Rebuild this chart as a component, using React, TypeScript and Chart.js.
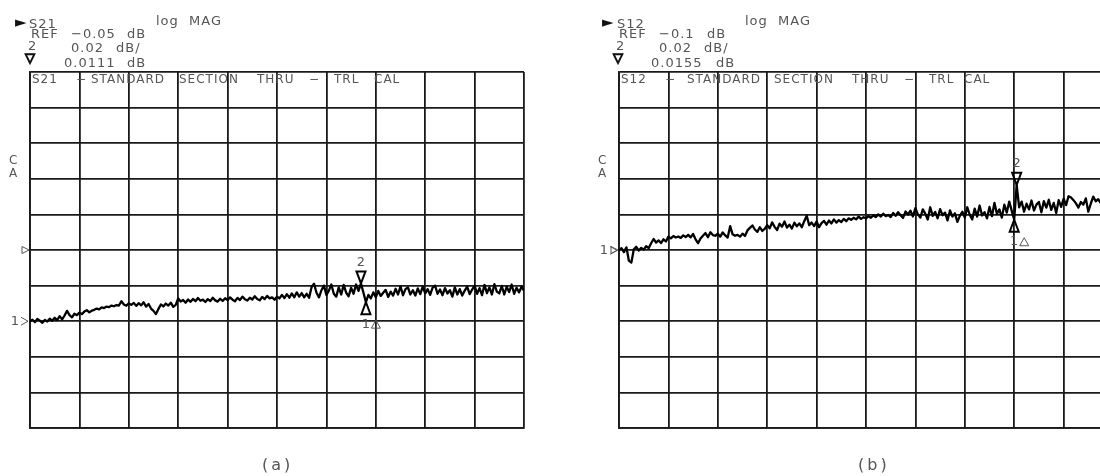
import React, { useEffect, useRef } from "react";
import { Chart, registerables } from "chart.js";

Chart.register(...registerables);

// ---- data -------------------------------------------------------------
const POINT_COUNT = 201; // sweep points per trace (point index on the x axis)
const DB_PER_DIV = 0.02;

const S21_REF_DB = -0.05;
const S12_REF_DB = -0.1;

// marker point indices (marker 2 = ▽, marker 1 = delta reference △)
const S21_MARKER2 = 134;
const S21_MARKER1 = 136;
const S12_MARKER2 = 161;
const S12_MARKER1 = 160;

// S21 log MAG trace (dB)
const S21_DB = [
  -0.0900, -0.0892, -0.0905, -0.0888, -0.0897, -0.0909, -0.0893, -0.0902, -0.0886, -0.0898,
  -0.0881, -0.0894, -0.0872, -0.0890, -0.0868, -0.0842, -0.0866, -0.0878, -0.0858, -0.0866,
  -0.0852, -0.0860, -0.0846, -0.0838, -0.0850, -0.0841, -0.0836, -0.0829, -0.0834, -0.0822,
  -0.0826, -0.0818, -0.0821, -0.0812, -0.0816, -0.0809, -0.0812, -0.0788, -0.0806, -0.0813,
  -0.0800, -0.0808, -0.0797, -0.0814, -0.0799, -0.0811, -0.0794, -0.0818, -0.0803, -0.0829,
  -0.0842, -0.0860, -0.0831, -0.0806, -0.0817, -0.0801, -0.0812, -0.0796, -0.0819, -0.0808,
  -0.0772, -0.0789, -0.0781, -0.0796, -0.0778, -0.0791, -0.0775, -0.0788, -0.0770, -0.0785,
  -0.0779, -0.0792, -0.0776, -0.0787, -0.0768, -0.0783, -0.0790, -0.0774, -0.0786, -0.0771,
  -0.0782, -0.0766, -0.0779, -0.0788, -0.0769, -0.0781, -0.0762, -0.0777, -0.0784, -0.0768,
  -0.0778, -0.0760, -0.0775, -0.0783, -0.0764, -0.0776, -0.0758, -0.0772, -0.0766, -0.0779,
  -0.0762, -0.0772, -0.0752, -0.0770, -0.0748, -0.0768, -0.0744, -0.0766, -0.0738, -0.0762,
  -0.0742, -0.0766, -0.0746, -0.0768, -0.0708, -0.0690, -0.0740, -0.0766, -0.0726, -0.0700,
  -0.0752, -0.0728, -0.0694, -0.0746, -0.0762, -0.0710, -0.0750, -0.0696, -0.0740, -0.0760,
  -0.0712, -0.0746, -0.0694, -0.0730, -0.0688, -0.0740, -0.0793, -0.0752, -0.0772, -0.0738,
  -0.0766, -0.0730, -0.0758, -0.0740, -0.0724, -0.0764, -0.0734, -0.0756, -0.0718, -0.0750,
  -0.0704, -0.0754, -0.0720, -0.0710, -0.0750, -0.0726, -0.0756, -0.0716, -0.0748, -0.0706,
  -0.0744, -0.0720, -0.0752, -0.0712, -0.0700, -0.0746, -0.0722, -0.0754, -0.0714, -0.0744,
  -0.0726, -0.0762, -0.0710, -0.0750, -0.0720, -0.0756, -0.0728, -0.0706, -0.0748, -0.0722,
  -0.0700, -0.0746, -0.0714, -0.0754, -0.0696, -0.0742, -0.0710, -0.0750, -0.0692, -0.0734,
  -0.0744, -0.0702, -0.0750, -0.0706, -0.0736, -0.0694, -0.0746, -0.0712, -0.0738, -0.0706,
  -0.0728,
];

// S12 log MAG trace (dB)
const S12_DB = [
  -0.1002, -0.0990, -0.1012, -0.0985, -0.1060, -0.1071, -0.0996, -0.0982, -0.1003, -0.0988,
  -0.0998, -0.0979, -0.0990, -0.0962, -0.0938, -0.0958, -0.0946, -0.0961, -0.0940, -0.0952,
  -0.0925, -0.0935, -0.0922, -0.0930, -0.0924, -0.0932, -0.0918, -0.0927, -0.0915, -0.0929,
  -0.0910, -0.0940, -0.0962, -0.0935, -0.0920, -0.0905, -0.0928, -0.0900, -0.0916, -0.0920,
  -0.0908, -0.0925, -0.0901, -0.0918, -0.0930, -0.0866, -0.0912, -0.0920, -0.0915, -0.0925,
  -0.0908, -0.0921, -0.0890, -0.0876, -0.0862, -0.0885, -0.0898, -0.0872, -0.0893, -0.0881,
  -0.0860, -0.0878, -0.0845, -0.0870, -0.0888, -0.0852, -0.0869, -0.0840, -0.0874, -0.0858,
  -0.0880, -0.0846, -0.0867, -0.0851, -0.0872, -0.0838, -0.0808, -0.0860, -0.0846, -0.0866,
  -0.0840, -0.0872, -0.0849, -0.0836, -0.0858, -0.0834, -0.0851, -0.0828, -0.0846, -0.0832,
  -0.0843, -0.0825, -0.0838, -0.0822, -0.0830, -0.0819, -0.0828, -0.0812, -0.0825, -0.0816,
  -0.0822, -0.0810, -0.0819, -0.0806, -0.0815, -0.0800, -0.0812, -0.0796, -0.0810, -0.0803,
  -0.0815, -0.0792, -0.0808, -0.0788, -0.0805, -0.0820, -0.0784, -0.0801, -0.0779, -0.0812,
  -0.0765, -0.0800, -0.0818, -0.0772, -0.0796, -0.0829, -0.0760, -0.0808, -0.0786, -0.0822,
  -0.0770, -0.0805, -0.0790, -0.0834, -0.0778, -0.0812, -0.0794, -0.0842, -0.0808, -0.0785,
  -0.0818, -0.0760, -0.0802, -0.0828, -0.0768, -0.0812, -0.0750, -0.0806, -0.0788, -0.0822,
  -0.0758, -0.0810, -0.0735, -0.0798, -0.0772, -0.0818, -0.0745, -0.0790, -0.0728, -0.0780,
  -0.0830, -0.0634, -0.0760, -0.0728, -0.0785, -0.0740, -0.0772, -0.0722, -0.0778, -0.0745,
  -0.0730, -0.0788, -0.0726, -0.0762, -0.0718, -0.0775, -0.0735, -0.0792, -0.0720, -0.0758,
  -0.0712, -0.0748, -0.0698, -0.0705, -0.0720, -0.0738, -0.0762, -0.0730, -0.0745, -0.0710,
  -0.0785, -0.0740, -0.0700, -0.0726, -0.0715, -0.0735, -0.0708, -0.0728, -0.0712, -0.0720,
  -0.0716,
];

// ---- styling ------------------------------------------------------------
const FONT = '"DejaVu Sans", "Liberation Sans", sans-serif';
const TEXT_COLOR = "#555";
const GRID_COLOR = "#1a1a1a";

const markerPlugin = {
  id: "vnaMarkers",
  afterDatasetsDraw(chart: any, _args: any, opts: any) {
    const { ctx, chartArea } = chart;
    const xs = chart.scales.x;
    const ys = chart.scales.y;
    const vals: number[] = opts.values;
    ctx.save();

    // marker 2 (▽ pointing down onto the trace)
    const x2 = xs.getPixelForValue(opts.m2);
    const y2 = ys.getPixelForValue(vals[opts.m2]);
    ctx.strokeStyle = "#000";
    ctx.lineWidth = 2;
    ctx.lineJoin = "miter";
    ctx.beginPath();
    ctx.moveTo(x2, y2);
    ctx.lineTo(x2 - 4.5, y2 - 12);
    ctx.lineTo(x2 + 4.5, y2 - 12);
    ctx.closePath();
    ctx.stroke();
    ctx.fillStyle = TEXT_COLOR;
    ctx.font = `13px ${FONT}`;
    ctx.textAlign = "center";
    ctx.textBaseline = "middle";
    ctx.fillText("2", x2, y2 - 21);

    // marker 1 (△ pointing up onto the trace)
    const x1 = xs.getPixelForValue(opts.m1);
    const y1 = ys.getPixelForValue(vals[opts.m1]);
    ctx.beginPath();
    ctx.moveTo(x1, y1);
    ctx.lineTo(x1 - 4.5, y1 + 12);
    ctx.lineTo(x1 + 4.5, y1 + 12);
    ctx.closePath();
    ctx.stroke();
    ctx.fillText("1", x1, y1 + 22);
    ctx.strokeStyle = TEXT_COLOR;
    ctx.lineWidth = 1;
    ctx.beginPath();
    ctx.moveTo(x1 + 10, y1 + 18);
    ctx.lineTo(x1 + 5.5, y1 + 26);
    ctx.lineTo(x1 + 14.5, y1 + 26);
    ctx.closePath();
    ctx.stroke();

    // reference position ▷
    const yr = ys.getPixelForValue(opts.refVal);
    const L = chartArea.left;
    ctx.beginPath();
    ctx.moveTo(L - 8, yr - 3.5);
    ctx.lineTo(L - 1, yr);
    ctx.lineTo(L - 8, yr + 3.5);
    ctx.closePath();
    ctx.stroke();

    // "1>" start of trace indicator
    const ys0 = ys.getPixelForValue(vals[0]);
    ctx.fillText("1", L - 15, ys0);
    ctx.beginPath();
    ctx.moveTo(L - 9, ys0 - 4);
    ctx.lineTo(L - 2, ys0);
    ctx.lineTo(L - 9, ys0 + 4);
    ctx.stroke();

    ctx.restore();
  },
};

type PanelProps = {
  left: number;
  width: number;
  pad: { left: number; right: number; top: number; bottom: number };
  values: number[];
  refVal: number;
  m2: number;
  m1: number;
};

function Panel({ left, width, pad, values, refVal, m2, m1 }: PanelProps) {
  const ref = useRef<HTMLCanvasElement>(null);
  useEffect(() => {
    if (!ref.current) return;
    const yMin = refVal - 5 * DB_PER_DIV;
    const yMax = refVal + 5 * DB_PER_DIV;
    const gridCommon = {
      color: GRID_COLOR,
      lineWidth: 1.8,
      drawTicks: false,
    };
    const chart = new Chart(ref.current, {
      type: "line",
      data: {
        datasets: [
          {
            data: values.map((v, i) => ({ x: i, y: v })),
            borderColor: "#000",
            borderWidth: 2.3,
            borderJoinStyle: "round",
            pointRadius: 0,
            tension: 0,
            fill: false,
          },
        ],
      },
      options: {
        animation: false,
        responsive: false,
        maintainAspectRatio: false,
        layout: { padding: pad },
        plugins: {
          legend: { display: false },
          tooltip: { enabled: false },
          // @ts-ignore
          vnaMarkers: { values, m2, m1, refVal },
        },
        scales: {
          x: {
            type: "linear",
            min: 0,
            max: POINT_COUNT - 1,
            ticks: { display: false, stepSize: (POINT_COUNT - 1) / 10 },
            grid: gridCommon,
            border: { display: true, color: GRID_COLOR, width: 1.8 },
          },
          y: {
            type: "linear",
            min: yMin,
            max: yMax,
            afterBuildTicks: (s: any) => {
              s.ticks = Array.from({ length: 11 }, (_, i) => ({ value: yMin + i * DB_PER_DIV }));
            },
            ticks: { display: false },
            grid: gridCommon,
            border: { display: true, color: GRID_COLOR, width: 1.8 },
          },
        },
      },
      plugins: [markerPlugin as any],
    });
    return () => chart.destroy();
  }, []);
  return (
    <canvas
      ref={ref}
      width={width}
      height={476}
      style={{ position: "absolute", left, top: 0, width, height: 476 }}
    />
  );
}

type TProps = {
  x: number;
  y: number;
  s: string;
  size?: number;
  color?: string;
  ls?: number;
  stroke?: string;
};
const T = ({ x, y, s, size = 13, color = TEXT_COLOR, ls = 1, stroke }: TProps) => (
  <div
    style={{
      position: "absolute",
      left: x,
      top: y,
      transform: "translateY(-50%)",
      fontFamily: FONT,
      fontSize: size,
      lineHeight: 1,
      color,
      letterSpacing: ls,
      whiteSpace: "pre",
      WebkitTextStroke: stroke,
    }}
  >
    {s}
  </div>
);

export default function App() {
  useEffect(() => {
    document.body.style.margin = "0";
  }, []);
  return (
    <div
      style={{
        position: "fixed",
        left: 0,
        top: 0,
        width: 1100,
        height: 476,
        overflow: "hidden",
        background: "#fff",
      }}
    >
      <Panel
        left={0}
        width={550}
        pad={{ left: 30, right: 26, top: 72, bottom: 48 }}
        values={S21_DB}
        refVal={S21_REF_DB}
        m2={S21_MARKER2}
        m1={S21_MARKER1}
      />
      <Panel
        left={550}
        width={580}
        pad={{ left: 69, right: 17, top: 72, bottom: 48 }}
        values={S12_DB}
        refVal={S12_REF_DB}
        m2={S12_MARKER2}
        m1={S12_MARKER1}
      />

      {/* panel (a) header */}
      <T x={15} y={22} s="►" size={15} color="#111" ls={0} />
      <T x={29} y={23} s="S21" />
      <T x={156} y={20} s="log" />
      <T x={189} y={20} s="MAG" />
      <T x={31} y={33} s="REF" />
      <T x={71} y={33} s="−0.05" />
      <T x={127} y={33} s="dB" />
      <T x={28} y={45} s="2" />
      <T x={71} y={47} s="0.02" />
      <T x={116} y={47} s="dB/" />
      <T x={25} y={57} s="▽" size={13} color="#111" ls={0} stroke="1.2px #111" />
      <T x={64} y={62} s="0.0111" />
      <T x={127} y={62} s="dB" />
      {/* panel (a) title row */}
      <T x={32} y={79} s="S21" size={12} />
      <T x={76} y={79} s="−" size={12} />
      <T x={91} y={79} s="STANDARD" size={12} />
      <T x={179} y={79} s="SECTION" size={12} />
      <T x={257} y={79} s="THRU" size={12} />
      <T x={309} y={79} s="−" size={12} />
      <T x={334} y={79} s="TRL" size={12} />
      <T x={374} y={79} s="CAL" size={12} />
      <T x={9} y={160} s="C" size={12} />
      <T x={9} y={173} s="A" size={12} />
      <T x={262} y={465} s="(a)" size={16} ls={3} />

      {/* panel (b) header */}
      <T x={602} y={22} s="►" size={15} color="#111" ls={0} />
      <T x={617} y={23} s="S12" />
      <T x={745} y={20} s="log" />
      <T x={778} y={20} s="MAG" />
      <T x={619} y={33} s="REF" />
      <T x={659} y={33} s="−0.1" />
      <T x={707} y={33} s="dB" />
      <T x={616} y={45} s="2" />
      <T x={659} y={47} s="0.02" />
      <T x={704} y={47} s="dB/" />
      <T x={613} y={57} s="▽" size={13} color="#111" ls={0} stroke="1.2px #111" />
      <T x={651} y={62} s="0.0155" />
      <T x={716} y={62} s="dB" />
      {/* panel (b) title row */}
      <T x={621} y={79} s="S12" size={12} />
      <T x={665} y={79} s="−" size={12} />
      <T x={687} y={79} s="STANDARD" size={12} />
      <T x={774} y={79} s="SECTION" size={12} />
      <T x={852} y={79} s="THRU" size={12} />
      <T x={904} y={79} s="−" size={12} />
      <T x={929} y={79} s="TRL" size={12} />
      <T x={964} y={79} s="CAL" size={12} />
      <T x={598} y={160} s="C" size={12} />
      <T x={598} y={173} s="A" size={12} />
      <T x={858} y={465} s="(b)" size={16} ls={3} />
    </div>
  );
}
